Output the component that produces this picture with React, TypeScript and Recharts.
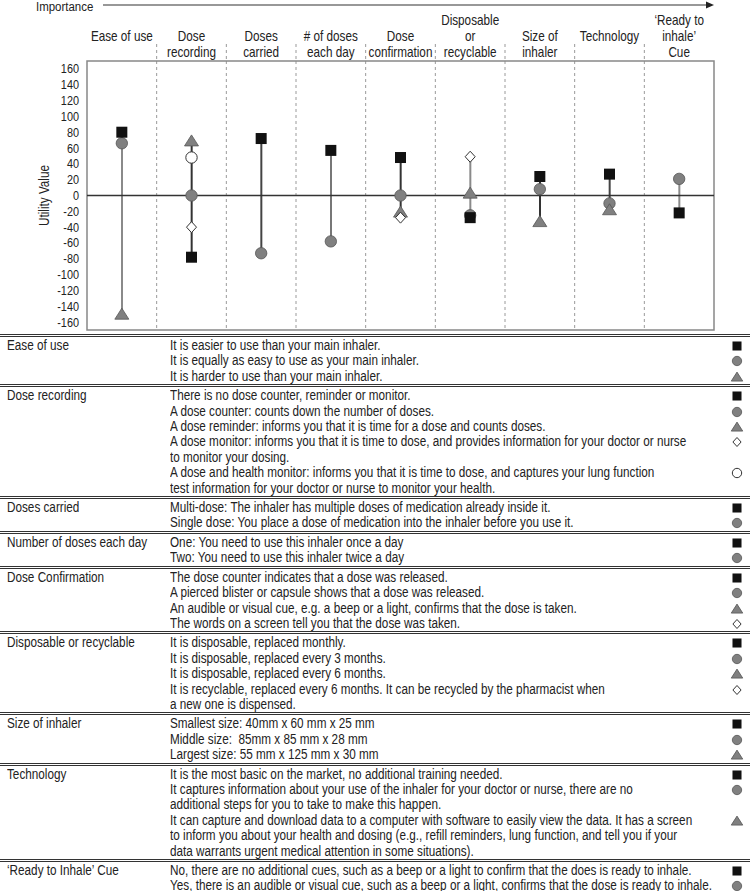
import React from 'react'
import {
  ComposedChart,
  XAxis,
  YAxis,
  CartesianGrid,
  Bar,
  Cell,
  Scatter,
  ReferenceLine,
  ReferenceArea,
} from 'recharts'

const categories = [
  'Ease of use',
  'Dose recording',
  'Doses carried',
  '# of doses each day',
  'Dose confirmation',
  'Disposable or recyclable',
  'Size of inhaler',
  'Technology',
  '\u2018Ready to inhale\u2019 Cue',
]

const headerLines = [
  ['Ease of use'],
  ['Dose', 'recording'],
  ['Doses', 'carried'],
  ['# of doses', 'each day'],
  ['Dose', 'confirmation'],
  ['Disposable', 'or', 'recyclable'],
  ['Size of', 'inhaler'],
  ['Technology'],
  ['\u2018Ready to', 'inhale\u2019', 'Cue'],
]

// utility values per attribute level (null = level not present)
const squareVals = [80, -78, 72, 57, 48, -28, 24, 27, -22]
const circleVals = [66, 0, -73, -58, 0, -25, 8, -10, 21]
const triangleVals = [-150, 69, null, null, -21, 3, -33, -18, null]
const diamondVals = [null, -40, null, null, -28, 49, null, null, null]
const openCircleVals = [null, 48, null, null, null, null, null, null, null]

const yTicks = [-160, -140, -120, -100, -80, -60, -40, -20, 0, 20, 40, 60, 80, 100, 120, 140, 160]

const lineColors = ['#8a8a8a', '#333', '#444', '#777', '#333', '#8a8a8a', '#333', '#444', '#8a8a8a']

type Kind = 'square' | 'circle' | 'triangle' | 'diamond' | 'open'

const tableRows: { name: string; items: [string, Kind][] }[] = [
  {
    name: 'Ease of use',
    items: [
      ['It is easier to use than your main inhaler.', 'square'],
      ['It is equally as easy to use as your main inhaler.', 'circle'],
      ['It is harder to use than your main inhaler.', 'triangle'],
    ],
  },
  {
    name: 'Dose recording',
    items: [
      ['There is no dose counter, reminder or monitor.', 'square'],
      ['A dose counter: counts down the number of doses.', 'circle'],
      ['A dose reminder: informs you that it is time for a dose and counts doses.', 'triangle'],
      ['A dose monitor: informs you that it is time to dose, and provides information for your doctor or nurse\nto monitor your dosing.', 'diamond'],
      ['A dose and health monitor: informs you that it is time to dose, and captures your lung function\ntest information for your doctor or nurse to monitor your health.', 'open'],
    ],
  },
  {
    name: 'Doses carried',
    items: [
      ['Multi-dose: The inhaler has multiple doses of medication already inside it.', 'square'],
      ['Single dose: You place a dose of medication into the inhaler before you use it.', 'circle'],
    ],
  },
  {
    name: 'Number of doses each day',
    items: [
      ['One: You need to use this inhaler once a day', 'square'],
      ['Two: You need to use this inhaler twice a day', 'circle'],
    ],
  },
  {
    name: 'Dose Confirmation',
    items: [
      ['The dose counter indicates that a dose was released.', 'square'],
      ['A pierced blister or capsule shows that a dose was released.', 'circle'],
      ['An audible or visual cue, e.g. a beep or a light, confirms that the dose is taken.', 'triangle'],
      ['The words on a screen tell you that the dose was taken.', 'diamond'],
    ],
  },
  {
    name: 'Disposable or recyclable',
    items: [
      ['It is disposable, replaced monthly.', 'square'],
      ['It is disposable, replaced every 3 months.', 'circle'],
      ['It is disposable, replaced every 6 months.', 'triangle'],
      ['It is recyclable, replaced every 6 months. It can be recycled by the pharmacist when\na new one is dispensed.', 'diamond'],
    ],
  },
  {
    name: 'Size of inhaler',
    items: [
      ['Smallest size: 40mm x 60 mm x 25 mm', 'square'],
      ['Middle size:  85mm x 85 mm x 28 mm', 'circle'],
      ['Largest size: 55 mm x 125 mm x 30 mm', 'triangle'],
    ],
  },
  {
    name: 'Technology',
    items: [
      ['It is the most basic on the market, no additional training needed.', 'square'],
      ['It captures information about your use of the inhaler for your doctor or nurse, there are no\nadditional steps for you to take to make this happen.', 'circle'],
      ['It can capture and download data to a computer with software to easily view the data. It has a screen\nto inform you about your health and dosing (e.g., refill reminders, lung function, and tell you if your\ndata warrants urgent medical attention in some situations).', 'triangle'],
    ],
  },
  {
    name: '\u2018Ready to Inhale\u2019 Cue',
    items: [
      ['No, there are no additional cues, such as a beep or a light to confirm that the does is ready to inhale.', 'square'],
      ['Yes, there is an audible or visual cue, such as a beep or a light, confirms that the dose is ready to inhale.', 'circle'],
    ],
  },
]

// Arial-metric font, squeezed horizontally to look like a narrow face
const FONT = '"Liberation Sans", Arial, sans-serif'
const SQ = 0.85

const squeeze = (x: number) => `translate(${x} 0) scale(${SQ} 1) translate(${-x} 0)`

const chartData = categories.map((cat, i) => {
  const vals = [squareVals[i], circleVals[i], triangleVals[i], diamondVals[i], openCircleVals[i]].filter(
    (v) => v !== null
  ) as number[]
  return {
    cat,
    square: squareVals[i],
    circle: circleVals[i],
    triangle: triangleVals[i],
    diamond: diamondVals[i],
    open: openCircleVals[i],
    range: [Math.min(...vals), Math.max(...vals)],
  }
})

const Marker = ({ kind, x, y, s = 1 }: { kind: Kind; x: number; y: number; s?: number }) => {
  switch (kind) {
    case 'square':
      return <rect x={x - 5.5 * s} y={y - 5.5 * s} width={11 * s} height={11 * s} fill="#111" />
    case 'circle':
      return <circle cx={x} cy={y} r={5.7 * s} fill="#808080" stroke="#555" strokeWidth={0.8} />
    case 'triangle':
      return (
        <polygon
          points={`${x},${y - 6 * s} ${x + 7 * s},${y + 5 * s} ${x - 7 * s},${y + 5 * s}`}
          fill="#808080"
          stroke="#555"
          strokeWidth={0.8}
        />
      )
    case 'diamond':
      return (
        <polygon
          points={`${x},${y - 5.5 * s} ${x + 5 * s},${y} ${x},${y + 5.5 * s} ${x - 5 * s},${y}`}
          fill="#fff"
          stroke="#333"
          strokeWidth={1}
        />
      )
    default:
      return <circle cx={x} cy={y} r={5.7 * s} fill="#fff" stroke="#333" strokeWidth={1} />
  }
}

const makeShape = (kind: Kind) => (p: any) => {
  if (p.payload == null || p.payload[kind] == null || p.cy == null || isNaN(p.cy)) return <g />
  return <Marker kind={kind} x={p.cx} y={p.cy} />
}

const HeaderTick = (props: any) => {
  const { x, y, payload, index } = props
  const lines = headerLines[index] || []
  const start = lines.length === 3 ? 0 : 1
  const half = payload && payload.offset ? payload.offset : 34.8
  return (
    <g>
      {lines.map((l, j) => (
        <text
          key={j}
          x={x}
          y={y - 36 + (start + j) * 15.8}
          textAnchor="middle"
          fontSize={13.8}
          fill="#222"
          fontFamily={FONT}
          transform={squeeze(x)}
        >
          {l}
        </text>
      ))}
      {index > 0 && (
        <line x1={x - half} x2={x - half} y1={y - 17} y2={y} stroke="#999" strokeDasharray="3 3" />
      )}
    </g>
  )
}

const YTick = (props: any) => {
  const { x, y, payload } = props
  return (
    <text x={x} y={y + 4.5} textAnchor="end" fontSize={12.8} fill="#222" fontFamily={FONT} transform={squeeze(x)}>
      {payload.value}
    </text>
  )
}

const YLabel = (props: any) => {
  const vb = props.viewBox || { x: 0, y: 61, width: 87, height: 269 }
  const cx = vb.x + 44
  const cy = vb.y + vb.height / 2
  return (
    <text
      x={cx}
      y={cy + 5}
      transform={`rotate(-90 ${cx} ${cy}) ${squeeze(cx)}`}
      textAnchor="middle"
      fontSize={13.8}
      fill="#222"
      fontFamily={FONT}
    >
      Utility Value
    </text>
  )
}

const Squeezed = ({ children }: { children: React.ReactNode }) => (
  <span style={{ display: 'inline-block', whiteSpace: 'pre', transform: `scaleX(${SQ})`, transformOrigin: '0 0' }}>
    {children}
  </span>
)

const LegendTable = () => (
  <div style={{ fontFamily: FONT, fontSize: 13.8, color: '#222', lineHeight: '15.4px' }}>
    {tableRows.map((row) => (
      <div key={row.name} style={{ display: 'flex', borderTop: '3px double #333', paddingTop: 1 }}>
        <div style={{ width: 163, paddingLeft: 7, flex: 'none' }}>
          <Squeezed>{row.name}</Squeezed>
        </div>
        <div style={{ flex: 1 }}>
          {row.items.map(([text, kind], i) => (
            <div key={i} style={{ display: 'flex' }}>
              <div style={{ width: 558, flex: 'none', overflow: 'visible' }}>
                <Squeezed>{text}</Squeezed>
              </div>
              <svg width={18} height={15} style={{ flex: 'none', display: 'block' }}>
                <Marker kind={kind} x={9} y={8} s={0.82} />
              </svg>
            </div>
          ))}
        </div>
      </div>
    ))}
  </div>
)

export default function App() {
  return (
    <div
      style={{
        position: 'absolute',
        left: 0,
        top: 0,
        width: 750,
        height: 891,
        overflow: 'hidden',
        background: '#fff',
      }}
    >
      <svg width={750} height={14} style={{ position: 'absolute', left: 0, top: 0 }}>
        <text x={36} y={11} fontSize={13.5} fill="#222" fontFamily={FONT} transform={squeeze(36)}>
          Importance
        </text>
        <line x1={103} x2={708} y1={5} y2={5} stroke="#333" strokeWidth={1.2} />
        <polygon points="706,1.5 714,5 706,8.5" fill="#222" />
      </svg>
      <ComposedChart
        width={750}
        height={334}
        data={chartData}
        margin={{ top: 0, right: 36, bottom: 4, left: 0 }}
        style={{ fontFamily: FONT }}
      >
        <CartesianGrid
          horizontal={false}
          stroke="#9a9a9a"
          strokeDasharray="3 3"
          verticalCoordinatesGenerator={({ offset }: any) =>
            categories.slice(1).map((_, i) => offset.left + ((i + 1) * offset.width) / categories.length)
          }
        />
        <XAxis
          dataKey="cat"
          orientation="top"
          height={61}
          axisLine={false}
          tickLine={false}
          tickSize={0}
          tickMargin={0}
          interval={0}
          tick={<HeaderTick />}
        />
        <YAxis
          width={87}
          domain={[-170, 170]}
          ticks={yTicks}
          interval={0}
          axisLine={false}
          tickLine={false}
          tick={<YTick />}
          label={<YLabel />}
        />
        <ReferenceArea y1={-170} y2={170} fill="none" stroke="#888" strokeWidth={1.5} ifOverflow="visible" />
        <ReferenceLine y={0} stroke="#333" strokeWidth={1.3} />
        <Bar dataKey="range" barSize={2} isAnimationActive={false}>
          {chartData.map((d, i) => (
            <Cell key={d.cat} fill={lineColors[i]} />
          ))}
        </Bar>
        <Scatter dataKey="circle" shape={makeShape('circle')} isAnimationActive={false} />
        <Scatter dataKey="triangle" shape={makeShape('triangle')} isAnimationActive={false} />
        <Scatter dataKey="diamond" shape={makeShape('diamond')} isAnimationActive={false} />
        <Scatter dataKey="open" shape={makeShape('open')} isAnimationActive={false} />
        <Scatter dataKey="square" shape={makeShape('square')} isAnimationActive={false} />
      </ComposedChart>
      <div style={{ position: 'absolute', left: 0, top: 334, width: 750 }}>
        <LegendTable />
      </div>
    </div>
  )
}
